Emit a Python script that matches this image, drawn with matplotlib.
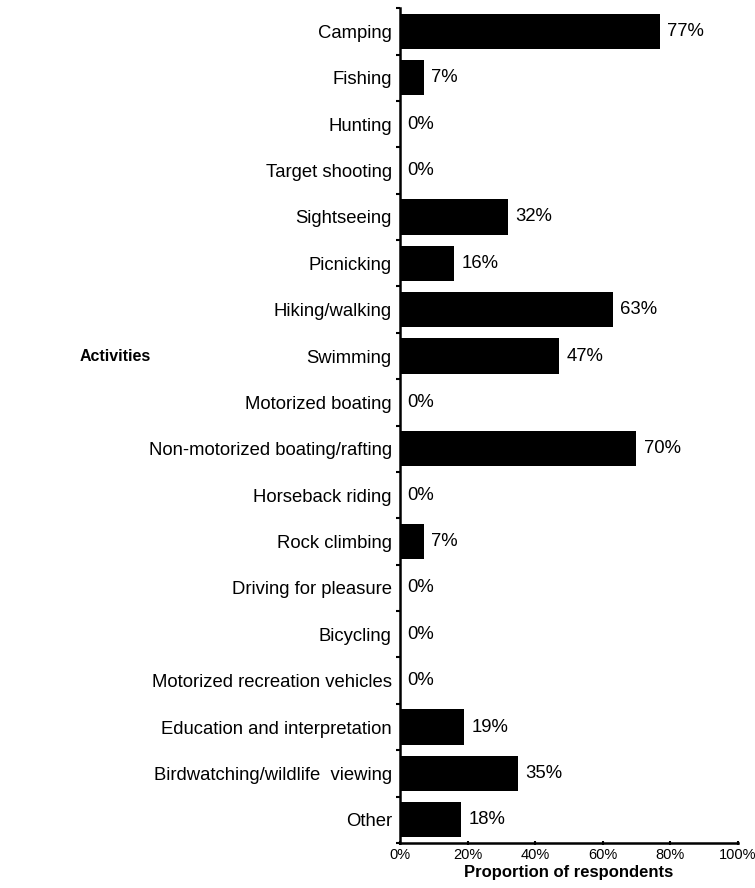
import numpy as np
import matplotlib
matplotlib.use("Agg")
import matplotlib.pyplot as plt

activities = ["Camping", "Fishing", "Hunting", "Target shooting", "Sightseeing",
              "Picnicking", "Hiking/walking", "Swimming", "Motorized boating",
              "Non-motorized boating/rafting", "Horseback riding", "Rock climbing",
              "Driving for pleasure", "Bicycling", "Motorized recreation vehicles",
              "Education and interpretation", "Birdwatching/wildlife  viewing", "Other"]
shares = [77, 7, 0, 0, 32, 16, 63, 47, 0, 70, 0, 7, 0, 0, 0, 19, 35, 18]
xticks = [0, 20, 40, 60, 80, 100]

plt.rcParams['font.family'] = ['Liberation Sans', 'DejaVu Sans']

fig = plt.figure(figsize=(7.55, 8.88), dpi=100)
ax = fig.add_axes([0.530, 0.0507, 0.447, 0.940])

y = np.arange(len(activities))
ax.barh(y, shares, height=0.76, color='black')
for yi, v in zip(y, shares):
    ax.text(v + 2.2, yi, "%d%%" % v, va='center', ha='left', fontsize=13.3)

ax.set_ylim(len(activities) - 0.5, -0.5)
ax.set_xlim(0, 100)
ax.set_yticks(y)
ax.set_yticklabels(activities, fontsize=13.3)
ax.tick_params(axis='y', length=0, pad=6)
ax.set_yticks(np.arange(len(activities) + 1) - 0.5, minor=True)
ax.tick_params(axis='y', which='minor', length=3, width=1.5, direction='out')
ax.set_xticks(xticks)
ax.set_xticklabels(["%d%%" % t for t in xticks], fontsize=10.5)
ax.tick_params(axis='x', length=3, width=1.5, direction='inout', pad=2)
ax.set_xlabel("Proportion of respondents", fontsize=12, fontweight='bold', labelpad=2)

for s in ['top', 'right']:
    ax.spines[s].set_visible(False)
for s in ['left', 'bottom']:
    ax.spines[s].set_linewidth(1.8)

fig.text(80 / 755, 1 - 356 / 888, "Activities", fontsize=11.5, fontweight='bold',
         ha='left', va='center')

fig.savefig("out.png", dpi=100)
